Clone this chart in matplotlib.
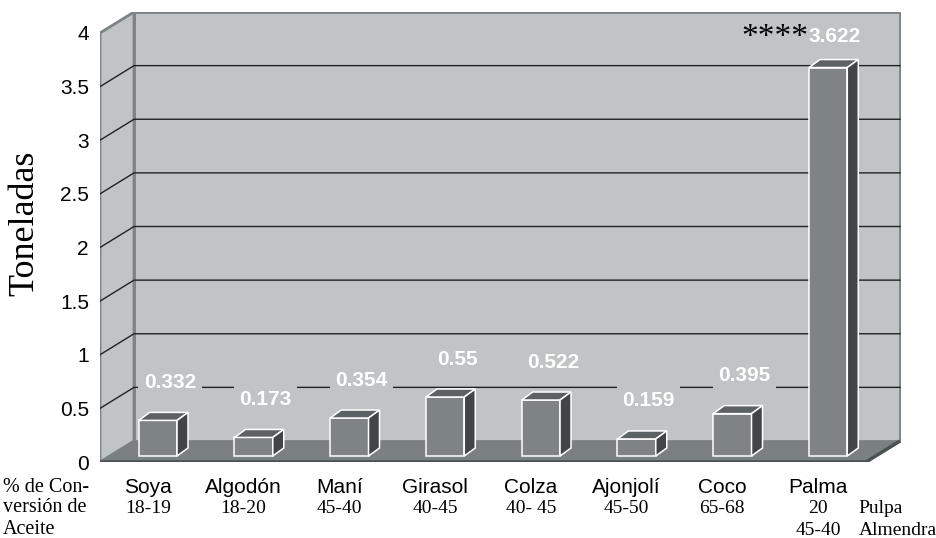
import matplotlib
matplotlib.use('Agg')
import matplotlib.pyplot as plt
import numpy as np
from matplotlib.patches import Polygon

# datos
cultivos = ['Soya', 'Algodón', 'Maní', 'Girasol', 'Colza', 'Ajonjolí', 'Coco', 'Palma']
toneladas = [0.332, 0.173, 0.354, 0.55, 0.522, 0.159, 0.395, 3.622]
etiquetas = ['0.332', '0.173', '0.354', '0.55', '0.522', '0.159', '0.395', '3.622']
conversion = ['18-19', '18-20', '45-40', '40-45', '40- 45', '45-50', '65-68', '20']
conversion_extra = ['', '', '', '', '', '', '', '45-40']
marcas = ['', '', '', '', '', '', '', '****']
yticks = [0, 0.5, 1, 1.5, 2, 2.5, 3, 3.5, 4]
ytick_labels = ['0', '0.5', '1', '1.5', '2', '2.5', '3', '3.5', '4']

SANS = 'Liberation Sans'
SERIF = 'Liberation Serif'

pared = '#c1c4c5'
piso = '#7a7f80'
borde = '#7d8485'
frente = '#7e8486'
tapa = '#5c6264'
lado = '#404548'

W, H = 936, 538
fig = plt.figure(figsize=(W / 100, H / 100), dpi=100)

# ejes: plano frontal de x=100 a 866 px, valor 0 en y=462, valor 4 en y=33
px_cat = 766 / 8
px_val = 429 / 4
ax = fig.add_axes([100 / W, 76 / H, 801 / W, 450 / H])
ax.set_xlim(-0.5, -0.5 + 801 / px_cat)
ax.set_ylim(0, 450 / px_val)
for s in ax.spines.values():
    s.set_visible(False)
ax.set_xticks([])
ax.set_yticks(yticks)
ax.set_yticklabels(ytick_labels, fontsize=15, family=SANS)
ax.tick_params(axis='y', length=0, pad=8)

n = len(cultivos)
x0, x1 = -0.5, n - 0.5
dxw, dyw = 34 / px_cat, 21 / px_val    # profundidad de la pared
ymax = 4

# pared de fondo
ax.add_patch(Polygon([(x0 + dxw, dyw), (x1 + dxw, dyw), (x1 + dxw, ymax + dyw), (x0 + dxw, ymax + dyw)],
                     closed=True, facecolor=pared, edgecolor=borde, lw=2, zorder=1))
# pared lateral
ax.add_patch(Polygon([(x0, 0), (x0 + dxw, dyw), (x0 + dxw, ymax + dyw), (x0, ymax)],
                     closed=True, facecolor=pared, edgecolor=borde, lw=2, zorder=1))

# lineas de division
for k in yticks[1:-1]:
    ax.plot([x0, x0 + dxw, x1 + dxw], [k, k + dyw, k + dyw], color='#1e2222', lw=1, zorder=2)

# piso
ax.add_patch(Polygon([(x0, 0), (x1, 0), (x1 + dxw, dyw), (x0 + dxw, dyw)],
                     closed=True, facecolor=piso, edgecolor='none', zorder=3))
ax.plot([x0, x1, x1 + dxw], [0, 0, dyw], color='#4b5153', lw=2.5, zorder=3,
        solid_capstyle='butt')

# barras 3D
bdx, bdy = 10 / px_cat, 6 / px_val     # desplazamiento de la base
pdx, pdy = 11 / px_cat, 8 / px_val     # profundidad de la barra
ancho = 0.4
xs = np.arange(n) + bdx
ax.bar(xs, toneladas, width=ancho, bottom=bdy, color=frente, edgecolor='white', lw=1.1, zorder=5)
for xc, v in zip(xs, toneladas):
    l, r, t = xc - ancho / 2, xc + ancho / 2, v + bdy
    ax.add_patch(Polygon([(l, t), (r, t), (r + pdx, t + pdy), (l + pdx, t + pdy)],
                         closed=True, facecolor=tapa, edgecolor='white', lw=1.1, zorder=5))
    ax.add_patch(Polygon([(r, bdy), (r + pdx, bdy + pdy), (r + pdx, t + pdy), (r, t)],
                         closed=True, facecolor=lado, edgecolor='white', lw=1.1, zorder=5))

# etiquetas de valor
for i, (v, txt, m) in enumerate(zip(toneladas, etiquetas, marcas)):
    if m:
        ax.text(i - 0.1, v + 0.35, txt, ha='left', va='center', color='white', fontsize=15,
                fontweight='bold', family=SANS, zorder=4,
                bbox=dict(facecolor=pared, edgecolor='none', pad=1))
        ax.text(i - 0.1, v + 0.33, m, ha='right', va='center', color='black', fontsize=24,
                family=SERIF, zorder=4)
    else:
        ax.text(i + 0.23, v + 0.41, txt, ha='center', va='center', color='white', fontsize=15,
                fontweight='bold', family=SANS, zorder=4,
                bbox=dict(facecolor=pared, edgecolor='none', pad=4))

# etiquetas de categoria
for i, (c, p, p2) in enumerate(zip(cultivos, conversion, conversion_extra)):
    ax.text(i, -0.24, c, ha='center', va='center', fontsize=15, family=SANS, clip_on=False)
    ax.text(i, -0.43, p, ha='center', va='center', fontsize=14, family=SERIF, clip_on=False)
    if p2:
        ax.text(i, -0.635, p2, ha='center', va='center', fontsize=14, family=SERIF, clip_on=False)
        ax.text(7.42, -0.43, 'Pulpa', ha='left', va='center', fontsize=14, family=SERIF, clip_on=False)
        ax.text(7.42, -0.635, 'Almendra', ha='left', va='center', fontsize=14, family=SERIF, clip_on=False)

for j, linea in enumerate(['% de Con-', 'versión de', 'Aceite']):
    fig.text(3 / W, 1 - (487 + 21 * j) / H, linea, ha='left', va='center', fontsize=14.5, family=SERIF)

fig.text(25 / W, 1 - 223 / H, 'Toneladas', rotation=90, ha='center', va='center', fontsize=26, family=SERIF)

fig.savefig('out.png', dpi=100)
